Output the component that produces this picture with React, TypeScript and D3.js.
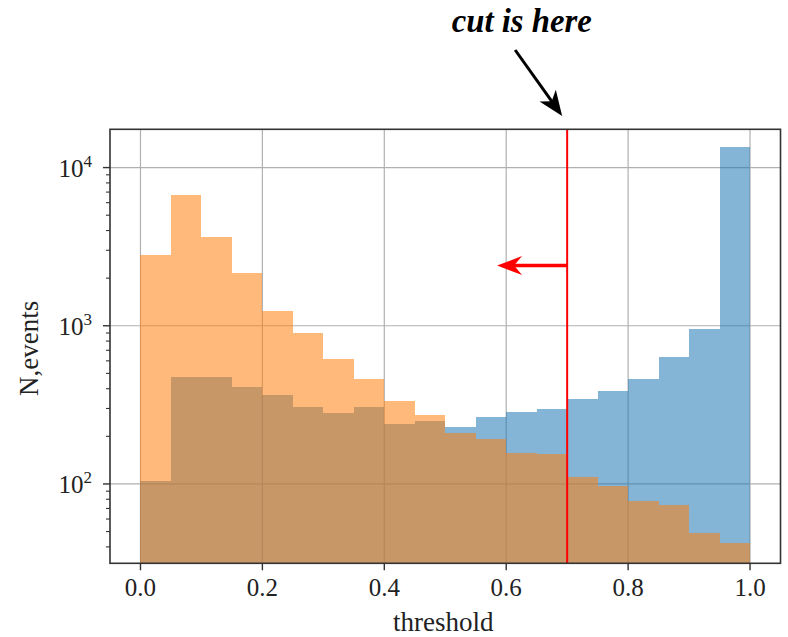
import * as d3 from "d3";

// histogram bins (left edges, width 0.05)
const binStarts = [0, 0.05, 0.1, 0.15, 0.2, 0.25, 0.3, 0.35, 0.4, 0.45, 0.5, 0.55, 0.6, 0.65, 0.7, 0.75, 0.8, 0.85, 0.9, 0.95];
const binWidth = 0.05;

const blueCounts = [105, 476, 476, 410, 365, 308, 282, 308, 238, 250, 230, 264, 286, 297, 344, 387, 459, 632, 955, 13550];
const orangeCounts = [2800, 6700, 3660, 2170, 1240, 904, 617, 461, 335, 273, 209, 192, 156, 155, 110, 97.5, 78, 73.6, 48.8, 42.5];

const xTicks = [0, 0.2, 0.4, 0.6, 0.8, 1.0];
const yTicks = [100, 1000, 10000];

const cutValue = 0.7;
const arrowLevel = 2400;
const arrowTipX = 0.585;

const W = 788;
const H = 637;
const plot = { left: 110, right: 780.5, top: 129.3, bottom: 563.3 };

function headPath(tx: number, ty: number, ux: number, uy: number, len: number, half: number, notch: number) {
  // ux,uy = unit vector pointing from tip back towards the tail
  const px = -uy;
  const py = ux;
  const bx = tx + ux * len;
  const by = ty + uy * len;
  const nx = tx + ux * notch;
  const ny = ty + uy * notch;
  return `M${tx},${ty}L${bx + px * half},${by + py * half}L${nx},${ny}L${bx - px * half},${by - py * half}Z`;
}

export default function App() {
  const x = d3.scaleLinear().domain([-0.05, 1.05]).range([plot.left, plot.right]);
  const y = d3.scaleLog().domain([31.5, 17460]).range([plot.bottom, plot.top]);

  const serif = "'Liberation Serif', 'Times New Roman', serif";
  const minorTicks: number[] = [];
  [10, 100, 1000, 10000].forEach((dec) => {
    for (let k = 2; k <= 9; k++) {
      const v = dec * k;
      if (v > y.domain()[0] && v < y.domain()[1]) minorTicks.push(v);
    }
  });

  // red arrow
  const ra = { x0: x(cutValue), x1: x(arrowTipX), y: y(arrowLevel) };
  // black annotation arrow (pixel offsets relative to the cut line)
  const ba = { x0: x(cutValue) - 52, y0: 50, x1: x(cutValue) - 5, y1: 116 };
  const bLen = Math.hypot(ba.x0 - ba.x1, ba.y0 - ba.y1);
  const bu = { x: (ba.x0 - ba.x1) / bLen, y: (ba.y0 - ba.y1) / bLen };

  return (
    <svg width={W} height={H} style={{ position: "absolute", left: 0, top: 0, background: "#fff" }}>
      <defs>
        <clipPath id="plotClip">
          <rect x={plot.left} y={plot.top} width={plot.right - plot.left} height={plot.bottom - plot.top} />
        </clipPath>
      </defs>

      {/* grid */}
      <g stroke="#b0b0b0" strokeWidth={1.2}>
        {xTicks.map((t) => (
          <line key={"gx" + t} x1={x(t)} x2={x(t)} y1={plot.top} y2={plot.bottom} />
        ))}
        {yTicks.map((t) => (
          <line key={"gy" + t} x1={plot.left} x2={plot.right} y1={y(t)} y2={y(t)} />
        ))}
      </g>

      {/* histograms */}
      <g clipPath="url(#plotClip)">
        {binStarts.map((b, i) => (
          <rect
            key={"b" + i}
            x={x(b)}
            width={x(b + binWidth) - x(b)}
            y={y(blueCounts[i])}
            height={plot.bottom - y(blueCounts[i])}
            fill="#1f77b4"
            fillOpacity={0.55}
            shapeRendering="crispEdges"
          />
        ))}
        {binStarts.map((b, i) => (
          <rect
            key={"o" + i}
            x={x(b)}
            width={x(b + binWidth) - x(b)}
            y={y(orangeCounts[i])}
            height={plot.bottom - y(orangeCounts[i])}
            fill="#ff7f0e"
            fillOpacity={0.55}
            shapeRendering="crispEdges"
          />
        ))}
      </g>

      {/* cut line */}
      <line x1={x(cutValue)} x2={x(cutValue)} y1={plot.top} y2={plot.bottom} stroke="#ff0000" strokeWidth={2} />

      {/* red arrow */}
      <line x1={ra.x0} x2={ra.x1 + 16} y1={ra.y} y2={ra.y} stroke="#ff0000" strokeWidth={3.5} />
      <path d={headPath(ra.x1, ra.y, 1, 0, 25, 9.5, 17)} fill="#ff0000" />

      {/* frame */}
      <rect
        x={plot.left}
        y={plot.top}
        width={plot.right - plot.left}
        height={plot.bottom - plot.top}
        fill="none"
        stroke="#333"
        strokeWidth={1.6}
      />

      {/* x ticks */}
      <g fontFamily={serif} fontSize={25} fill="#222">
        {xTicks.map((t) => (
          <g key={"xt" + t}>
            <line x1={x(t)} x2={x(t)} y1={plot.bottom} y2={plot.bottom + 7} stroke="#333" strokeWidth={1.4} />
            <text x={x(t)} y={596} textAnchor="middle">
              {d3.format(".1f")(t)}
            </text>
          </g>
        ))}
        <text x={(plot.left + plot.right) / 2 - 2} y={630.5} textAnchor="middle" fontSize={27}>
          threshold
        </text>
      </g>

      {/* y ticks */}
      <g fontFamily={serif} fill="#222">
        {minorTicks.map((t) => (
          <line key={"my" + t} x1={plot.left - 4} x2={plot.left} y1={y(t)} y2={y(t)} stroke="#333" strokeWidth={1.1} />
        ))}
        {yTicks.map((t) => (
          <g key={"yt" + t}>
            <line x1={plot.left - 7} x2={plot.left} y1={y(t)} y2={y(t)} stroke="#333" strokeWidth={1.4} />
            <text x={92} y={y(t) + 9} textAnchor="end" fontSize={25}>
              <tspan>10</tspan>
              <tspan fontSize={17} dy={-10}>
                {Math.round(Math.log10(t))}
              </tspan>
            </text>
          </g>
        ))}
        <text
          transform={`translate(37.5, ${(plot.top + plot.bottom) / 2 + 2}) rotate(-90)`}
          textAnchor="middle"
          fontSize={27}
        >
          N,events
        </text>
      </g>

      {/* annotation */}
      <text
        x={451.7}
        y={32}
        fontFamily="'Liberation Serif', serif"
        fontWeight="bold"
        fontStyle="italic"
        fontSize={34}
        textLength={140}
        lengthAdjust="spacingAndGlyphs"
        fill="#000"
      >
        cut is here
      </text>
      <line x1={ba.x0} y1={ba.y0} x2={ba.x1 + bu.x * 16} y2={ba.y1 + bu.y * 16} stroke="#000" strokeWidth={3} />
      <path d={headPath(ba.x1, ba.y1, bu.x, bu.y, 25, 10, 18)} fill="#000" />
    </svg>
  );
}
